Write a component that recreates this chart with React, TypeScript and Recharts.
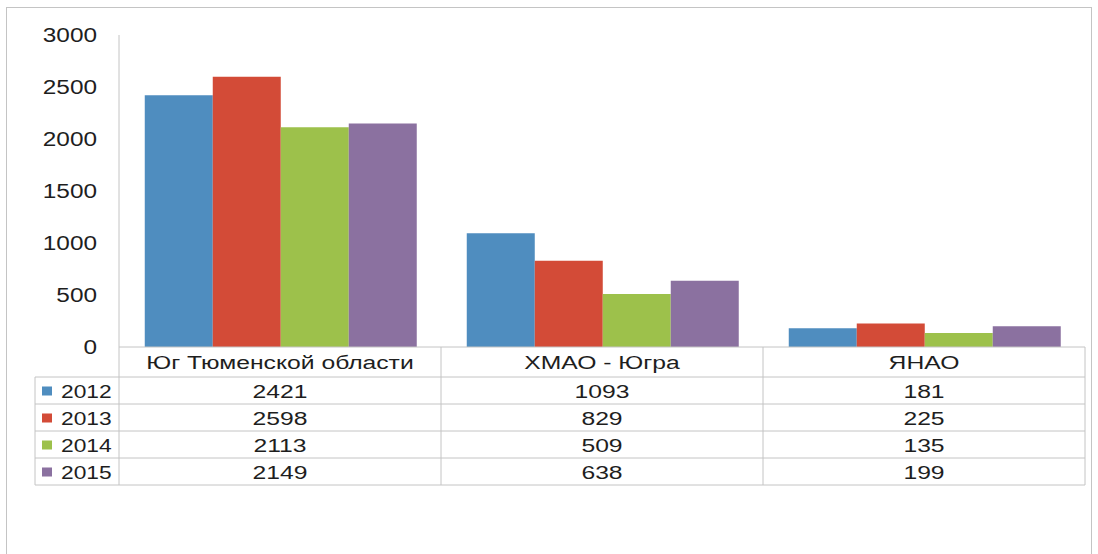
import React from "react";
import { BarChart, Bar, XAxis, YAxis } from "recharts";

const categories = ["Юг Тюменской области", "ХМАО - Югра", "ЯНАО"];
const years = ["2012", "2013", "2014", "2015"];
const values2012 = [2421, 1093, 181];
const values2013 = [2598, 829, 225];
const values2014 = [2113, 509, 135];
const values2015 = [2149, 638, 199];
const yTicks = [0, 500, 1000, 1500, 2000, 2500, 3000];
const colors = ["#4F8DBF", "#D34B37", "#9DC14B", "#8B71A0"];

const series = [values2012, values2013, values2014, values2015];
const data = categories.map((name, i) => ({
  name,
  y2012: values2012[i],
  y2013: values2013[i],
  y2014: values2014[i],
  y2015: values2015[i],
}));

const FONT = "'Liberation Sans', Arial, sans-serif";
const LINE = "#c4c4c4";
const TEXT = "#1e1e1e";
const HEADER_H = 30;
const ROW_H = 27;
const TABLE_LEFT = 35;

const WideText = ({ x, y, sx, size, anchor, children }: any) => (
  <g transform={`translate(${x},${y}) scale(${sx},1)`}>
    <text x={0} y={0} textAnchor={anchor} fontFamily={FONT} fontSize={size} fill={TEXT}>
      {children}
    </text>
  </g>
);

const YTick = (props: any) => {
  const { x, y, payload } = props;
  return (
    <WideText x={x} y={y + 7} sx={1.25} size={19.5} anchor="end">
      {payload.value}
    </WideText>
  );
};

const TableTick = (props: any) => {
  const { x, y, payload, index } = props;
  const i = typeof index === "number" ? index : payload.index;
  const half = payload && payload.offset ? payload.offset : 161;
  const left = x - half;
  const right = x + half;
  const bottom = y + HEADER_H + ROW_H * years.length;
  const els: any[] = [];
  els.push(
    <WideText key="h" x={x} y={y + HEADER_H / 2 + 7} sx={1.3} size={19} anchor="middle">
      {categories[i]}
    </WideText>
  );
  els.push(<line key="vr" x1={right} x2={right} y1={y} y2={bottom} stroke={LINE} strokeWidth={1} />);
  if (i === 0) {
    els.push(<line key="vl" x1={left} x2={left} y1={y} y2={bottom} stroke={LINE} strokeWidth={1} />);
    els.push(<line key="vt" x1={TABLE_LEFT} x2={TABLE_LEFT} y1={y + HEADER_H} y2={bottom} stroke={LINE} strokeWidth={1} />);
  }
  years.forEach((yr, r) => {
    const top = y + HEADER_H + ROW_H * r;
    const cy = top + ROW_H / 2;
    els.push(<line key={"hl" + r} x1={i === 0 ? TABLE_LEFT : left} x2={right} y1={top} y2={top} stroke={LINE} strokeWidth={1} />);
    els.push(
      <WideText key={"v" + r} x={x} y={cy + 7} sx={1.3} size={19} anchor="middle">
        {series[r][i]}
      </WideText>
    );
    if (i === 0) {
      els.push(<rect key={"s" + r} x={42} y={cy - 4} width={10} height={9} fill={colors[r]} />);
      els.push(
        <WideText key={"l" + r} x={61} y={cy + 7} sx={1.2} size={19} anchor="start">
          {yr}
        </WideText>
      );
    }
  });
  els.push(<line key="hb" x1={i === 0 ? TABLE_LEFT : left} x2={right} y1={bottom} y2={bottom} stroke={LINE} strokeWidth={1} />);
  return <g>{els}</g>;
};

export default function App() {
  return (
    <div style={{ position: "absolute", left: 0, top: 0, width: 1098, height: 554, background: "#fff", overflow: "hidden" }}>
      <div
        style={{
          position: "absolute",
          left: 6,
          top: 7,
          width: 1086,
          height: 560,
          border: "1px solid #c4c4c4",
          boxSizing: "border-box",
        }}
      />
      <div style={{ position: "absolute", left: 0, top: 0 }}>
        <BarChart
          width={1098}
          height={554}
          data={data}
          margin={{ top: 35, right: 13, bottom: 67, left: 0 }}
          barCategoryGap="8%"
          barGap={0}
        >
          <XAxis
            dataKey="name"
            height={140}
            tickLine={false}
            tickSize={0}
            tickMargin={0}
            axisLine={{ stroke: LINE }}
            tick={<TableTick />}
            interval={0}
          />
          <YAxis
            width={119}
            domain={[0, 3000]}
            ticks={yTicks}
            tickLine={false}
            tickSize={0}
            tickMargin={22}
            axisLine={{ stroke: LINE }}
            tick={<YTick />}
          />
          <Bar dataKey="y2012" fill={colors[0]} isAnimationActive={false} />
          <Bar dataKey="y2013" fill={colors[1]} isAnimationActive={false} />
          <Bar dataKey="y2014" fill={colors[2]} isAnimationActive={false} />
          <Bar dataKey="y2015" fill={colors[3]} isAnimationActive={false} />
        </BarChart>
      </div>
    </div>
  );
}
